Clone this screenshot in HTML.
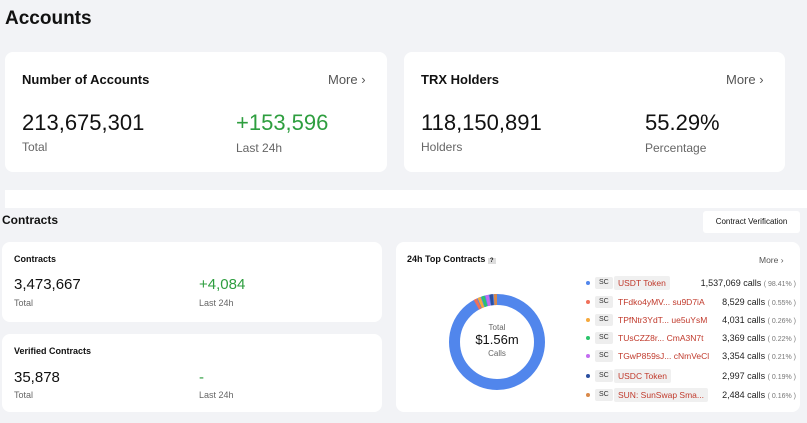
<!DOCTYPE html><html><head><style>
body{margin:0;width:807px;height:423px;background:#f2f3f6;font-family:"Liberation Sans",sans-serif;position:relative;overflow:hidden;color:#111}
.a{position:absolute}
.card{position:absolute;background:#fff;border-radius:8px}
.g{color:#777}
.lbl{font-size:11px;color:#666}
.row{position:absolute;left:586px;font-size:9px;height:14px;line-height:14px;width:210px}
.dot{position:absolute;left:0;top:5px;width:4px;height:4px;border-radius:50%}
.sc{position:absolute;left:9px;top:1px;background:#eee;border-radius:2px;font-size:7px;padding:0 4px;height:12px;line-height:12px;color:#333}
.nm{position:absolute;left:28px;color:#c0392b;padding:0 4px;border-radius:2px;font-size:8.5px}
.nm.b{background:#f0f0f0}
.cl{position:absolute;right:0;color:#222;font-size:9px}
.cl span{font-size:7px;color:#777}
</style></head><body>
<div class="a" style="left:5px;top:8px;font-size:19px;font-weight:bold">Accounts</div>
<div class="card" style="left:5px;top:52px;width:382px;height:120px">
 <div class="a" style="left:17px;top:20px;font-size:13px;font-weight:bold">Number of Accounts</div>
 <div class="a" style="left:323px;top:20px;font-size:13px;color:#555">More ›</div>
 <div class="a" style="left:17px;top:58px;font-size:22px">213,675,301</div>
 <div class="a" style="left:231px;top:58px;font-size:22px;color:#2e9e3f">+153,596</div>
 <div class="a lbl" style="left:17px;top:88px;font-size:12px">Total</div>
 <div class="a lbl" style="left:231px;top:89px;font-size:12px">Last 24h</div>
</div>
<div class="card" style="left:404px;top:52px;width:381px;height:120px">
 <div class="a" style="left:17px;top:20px;font-size:13px;font-weight:bold">TRX Holders</div>
 <div class="a" style="left:322px;top:20px;font-size:13px;color:#555">More ›</div>
 <div class="a" style="left:17px;top:58px;font-size:22px">118,150,891</div>
 <div class="a" style="left:241px;top:58px;font-size:22px">55.29%</div>
 <div class="a lbl" style="left:17px;top:88px;font-size:12px">Holders</div>
 <div class="a lbl" style="left:241px;top:89px;font-size:12px">Percentage</div>
</div>
<div class="a" style="left:5px;top:190px;width:802px;height:18px;background:#fff"></div>
<div class="a" style="left:2px;top:213px;font-size:12px;font-weight:bold">Contracts</div>
<div class="a" style="left:703px;top:211px;width:97px;height:22px;background:#fff;border-radius:3px;font-size:8px;line-height:22px;text-align:center">Contract Verification</div>
<div class="card" style="left:2px;top:242px;width:380px;height:80px">
 <div class="a" style="left:12px;top:12px;font-size:9px;font-weight:bold">Contracts</div>
 <div class="a" style="left:12px;top:34px;font-size:15px">3,473,667</div>
 <div class="a" style="left:197px;top:34px;font-size:15px;color:#2e9e3f">+4,084</div>
 <div class="a lbl" style="left:12px;top:56px;font-size:9px">Total</div>
 <div class="a lbl" style="left:197px;top:56px;font-size:9px">Last 24h</div>
</div>
<div class="card" style="left:2px;top:334px;width:380px;height:78px">
 <div class="a" style="left:12px;top:12px;font-size:9px;font-weight:bold">Verified Contracts</div>
 <div class="a" style="left:12px;top:35px;font-size:15px">35,878</div>
 <div class="a" style="left:197px;top:35px;font-size:15px;color:#2e9e3f">-</div>
 <div class="a lbl" style="left:12px;top:56px;font-size:9px">Total</div>
 <div class="a lbl" style="left:197px;top:56px;font-size:9px">Last 24h</div>
</div>
<div class="card" style="left:396px;top:242px;width:404px;height:170px">
 <div class="a" style="left:11px;top:12px;font-size:9px;font-weight:bold">24h Top Contracts <span style="background:#ddd;font-size:6px;padding:0 2px">?</span></div>
 <div class="a" style="left:363px;top:13px;font-size:8.5px;color:#555">More ›</div>
</div>
<svg class="a" style="left:447px;top:292px" width="100" height="100" viewBox="0 0 100 100">
 <circle cx="50" cy="50" r="42.5" fill="none" stroke="#5186ec" stroke-width="11"/>
 <circle cx="50" cy="50" r="42.5" fill="none" stroke="#f0705a" stroke-width="11" stroke-dasharray="3 264" transform="rotate(-119 50 50)"/>
 <circle cx="50" cy="50" r="42.5" fill="none" stroke="#f5a93d" stroke-width="11" stroke-dasharray="3 264" transform="rotate(-114 50 50)"/>
 <circle cx="50" cy="50" r="42.5" fill="none" stroke="#2bc46b" stroke-width="11" stroke-dasharray="3 264" transform="rotate(-109 50 50)"/>
 <circle cx="50" cy="50" r="42.5" fill="none" stroke="#c36cf0" stroke-width="11" stroke-dasharray="3 264" transform="rotate(-104 50 50)"/>
 <circle cx="50" cy="50" r="42.5" fill="none" stroke="#2b4fa0" stroke-width="11" stroke-dasharray="3 264" transform="rotate(-99 50 50)"/>
 <circle cx="50" cy="50" r="42.5" fill="none" stroke="#d9894a" stroke-width="11" stroke-dasharray="3 264" transform="rotate(-94 50 50)"/>
</svg>
<div class="a" style="left:447px;top:323px;width:100px;text-align:center;font-size:8px;color:#666">Total</div>
<div class="a" style="left:447px;top:332px;width:100px;text-align:center;font-size:13px;color:#111">$1.56m</div>
<div class="a" style="left:447px;top:349px;width:100px;text-align:center;font-size:8px;color:#666">Calls</div>
<div class="row" style="top:276px"><i class="dot" style="background:#5186ec"></i><span class="sc">SC</span><span class="nm b">USDT Token</span><span class="cl">1,537,069 calls <span>( 98.41% )</span></span></div>
<div class="row" style="top:295px"><i class="dot" style="background:#f0705a"></i><span class="sc">SC</span><span class="nm">TFdko4yMV... su9D7iA</span><span class="cl">8,529 calls <span>( 0.55% )</span></span></div>
<div class="row" style="top:313px"><i class="dot" style="background:#f5a93d"></i><span class="sc">SC</span><span class="nm">TPfNtr3YdT... ue5uYsM</span><span class="cl">4,031 calls <span>( 0.26% )</span></span></div>
<div class="row" style="top:331px"><i class="dot" style="background:#2bc46b"></i><span class="sc">SC</span><span class="nm">TUsCZZ8r... CmA3N7t</span><span class="cl">3,369 calls <span>( 0.22% )</span></span></div>
<div class="row" style="top:349px"><i class="dot" style="background:#c36cf0"></i><span class="sc">SC</span><span class="nm">TGwP859sJ... cNmVeCl</span><span class="cl">3,354 calls <span>( 0.21% )</span></span></div>
<div class="row" style="top:369px"><i class="dot" style="background:#2b4fa0"></i><span class="sc">SC</span><span class="nm b">USDC Token</span><span class="cl">2,997 calls <span>( 0.19% )</span></span></div>
<div class="row" style="top:388px"><i class="dot" style="background:#d9894a"></i><span class="sc">SC</span><span class="nm b">SUN: SunSwap Sma...</span><span class="cl">2,484 calls <span>( 0.16% )</span></span></div>
</body></html>
